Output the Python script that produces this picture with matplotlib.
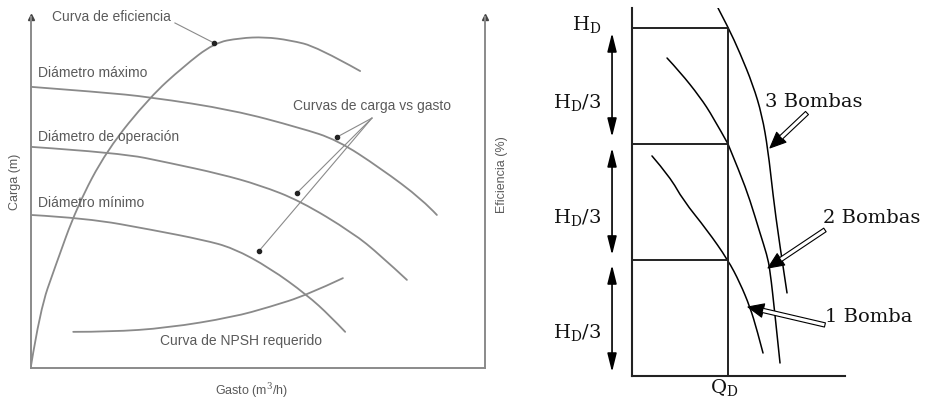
"""Pump characteristic sketch (left) and series-pump head split (right).

Left: head vs flow for three impeller diameters, efficiency and NPSH curves.
Right: 1, 2 and 3 pumps in series, each adding H_D/3 at the design flow Q_D.
Saved to out.png.
"""

import matplotlib
matplotlib.use("Agg")
import matplotlib.pyplot as plt
from matplotlib.path import Path
from matplotlib.patches import PathPatch

# ---- left panel: gasto (% of axis) vs carga (% of axis) ----
dmax_q = [0, 15.2, 26.2, 44.5, 59.3, 67.4, 76.9, 86.3, 89.4]
dmax_h = [80.1, 78.6, 77.2, 73.5, 68.4, 65.0, 57.0, 47.9, 43.6]

doper_q = [0, 19.6, 30.6, 41.6, 50.4, 59.3, 70.9, 76.9, 82.8]
doper_h = [63.0, 61.3, 58.4, 55.3, 52.1, 47.6, 38.5, 32.2, 25.1]

dmin_q = [0, 12.3, 26.9, 37.9, 44.5, 52.6, 60.8, 65.9, 69.2]
dmin_h = [43.6, 42.7, 39.3, 36.5, 34.2, 28.5, 20.8, 14.8, 10.3]

efic_q = [0, 2.0, 5.3, 10.1, 16.7, 26.2, 33.5, 40.3, 46.0, 51.5, 57.0, 63.0, 72.5]
efic_h = [0.6, 16.5, 28.8, 45.9, 62.1, 77.2, 85.8, 92.6, 94.0, 94.3, 93.4, 91.5, 84.6]

npsh_q = [9.3, 17.4, 30.0, 44.5, 52.6, 60.8, 68.7]
npsh_h = [10.3, 10.3, 11.4, 14.5, 17.4, 20.8, 25.6]

# leader line endpoints for the "Curvas de carga vs gasto" callout
callout_from = (75.1, 71.2)
callout_dots = [(67.4, 65.8), (58.6, 49.9), (50.2, 33.3)]

# ---- right panel: Q / Q_D vs H / (H_D/3) ----
b3_q = [0.896, 1.0, 1.125, 1.260, 1.354, 1.417, 1.469, 1.531, 1.615]
b3_h = [3.172, 3.009, 2.784, 2.509, 2.250, 1.948, 1.560, 1.172, 0.716]

b2_q = [1.0, 1.125, 1.229, 1.333, 1.406, 1.438, 1.490, 1.542]
b2_h = [2.0, 1.75, 1.517, 1.233, 1.043, 0.914, 0.526, 0.112]

b1a_q = [0.365, 0.5, 0.708, 0.844, 1.0]
b1a_h = [2.741, 2.621, 2.405, 2.233, 2.0]

b1b_q = [0.208, 0.396, 0.531, 0.781, 1.0, 1.125, 1.229, 1.302, 1.365]
b1b_h = [1.897, 1.716, 1.517, 1.259, 1.0, 0.802, 0.595, 0.397, 0.198]

levels = [1, 2, 3]      # H_D/3, 2H_D/3, H_D
q_design = 1.0

GRAY = "#8a8a8a"
TXT = "#5a5a5a"
plt.rcParams["mathtext.fontset"] = "dejavuserif"


def smooth_curve(ax, xs, ys, **kw):
    """Draw the points as control polygon of a quadratic Bezier chain."""
    pts = list(zip(xs, ys))
    verts = [pts[0]]
    codes = [Path.MOVETO]
    for i in range(1, len(pts) - 1):
        nxt = pts[i + 1] if i == len(pts) - 2 else (
            (pts[i][0] + pts[i + 1][0]) / 2, (pts[i][1] + pts[i + 1][1]) / 2)
        verts += [pts[i], nxt]
        codes += [Path.CURVE3, Path.CURVE3]
    ax.add_patch(PathPatch(Path(verts, codes), fill=False, capstyle="round", **kw))


fig = plt.figure(figsize=(9.38, 4.03), dpi=100)

# left panel ----------------------------------------------------------
axL = fig.add_axes([31 / 938, 35 / 403, 454 / 938, 351 / 403])
axL.set_xlim(0, 100)
axL.set_ylim(0, 100)
axL.set_xticks([])
axL.set_yticks([])
axL.spines["top"].set_visible(False)
for s in ("left", "right", "bottom"):
    axL.spines[s].set_color(GRAY)
    axL.spines[s].set_linewidth(1.4)
axL.plot([0, 100], [100, 100], ls="none", marker="^", ms=5,
         color="#444444", clip_on=False)

lkw = dict(edgecolor=GRAY, lw=1.3)
smooth_curve(axL, dmax_q, dmax_h, **lkw)
smooth_curve(axL, doper_q, doper_h, **lkw)
smooth_curve(axL, dmin_q, dmin_h, **lkw)
smooth_curve(axL, efic_q, efic_h, **lkw)
smooth_curve(axL, npsh_q, npsh_h, **lkw)

fkw = dict(family="Liberation Sans", fontsize=10, color=TXT)
axL.text(4.6, 100, "Curva de eficiencia", va="center", **fkw)
axL.plot([31.7, 40.3], [98.3, 92.6], color=GRAY, lw=0.8)
axL.plot([40.3], [92.6], "o", ms=3, color="#222222")
axL.text(1.5, 84.0, "Diámetro máximo", va="center", **fkw)
axL.text(1.5, 65.8, "Diámetro de operación", va="center", **fkw)
axL.text(1.5, 47.0, "Diámetro mínimo", va="center", **fkw)
axL.text(57.7, 74.6, "Curvas de carga vs gasto", va="center", **fkw)
for dx, dy in callout_dots:
    axL.plot([callout_from[0], dx], [callout_from[1], dy], color=GRAY, lw=0.8)
    axL.plot([dx], [dy], "o", ms=3, color="#222222")
axL.text(28.4, 7.7, "Curva de NPSH requerido", va="center", **fkw)

axL.text(48.5, -6.3, "Gasto (m$^3$/h)", ha="center", va="center",
         family="Liberation Sans", fontsize=9, color=TXT)
axL.text(-3.5, 53, "Carga (m)", rotation=90, ha="center", va="center",
         family="Liberation Sans", fontsize=9, color=TXT)
axL.text(103.8, 55, "Eficiencia (%)", rotation=90, ha="center", va="center",
         family="Liberation Sans", fontsize=9, color=TXT)

# right panel ---------------------------------------------------------
axR = fig.add_axes([632 / 938, 27 / 403, 213 / 938, 368 / 403])
axR.set_xlim(0, 2.219)
axR.set_ylim(0, 3.172)
axR.set_xticks([])
axR.set_yticks([])
axR.spines["top"].set_visible(False)
axR.spines["right"].set_visible(False)
for s in ("left", "bottom"):
    axR.spines[s].set_color("#222222")
    axR.spines[s].set_linewidth(1.5)

for h in levels:
    axR.plot([0, q_design], [h, h], color="#222222", lw=1.4)
axR.plot([q_design, q_design], [0, levels[-1]], color="#222222", lw=1.4)

ckw = dict(edgecolor="black", lw=1.1)
smooth_curve(axR, b3_q, b3_h, **ckw)
smooth_curve(axR, b2_q, b2_h, **ckw)
smooth_curve(axR, b1a_q, b1a_h, **ckw)
smooth_curve(axR, b1b_q, b1b_h, **ckw)

# double-headed H_D/3 spans left of the axis
for lo, hi in [(0.034, 0.957), (1.043, 1.966), (2.06, 2.957)]:
    axR.annotate("", xy=(-0.208, hi), xytext=(-0.208, lo),
                 arrowprops=dict(arrowstyle="<|-|>,head_length=0.8,head_width=0.2",
                                 color="black", lw=1.2, mutation_scale=14,
                                 shrinkA=0, shrinkB=0),
                 annotation_clip=False)

skw = dict(family="DejaVu Serif", fontsize=14, color="#111111")
axR.text(-0.625, 3.026, r"$\mathrm{H_D}$", va="center", ha="left", **skw)
for y in (2.36, 1.362, 0.371):
    axR.text(-0.823, y, r"$\mathrm{H_D/3}$", va="center", ha="left", **skw)
axR.text(0.958, -0.095, r"$\mathrm{Q_D}$", va="center", ha="center", **skw)


def hollow_arrow(tail, tip):
    axR.annotate("", xy=tip, xytext=tail,
                 arrowprops=dict(arrowstyle="simple,head_length=0.8,head_width=0.7,tail_width=0.22",
                                 fc="white", ec="black", lw=0.8, mutation_scale=14,
                                 shrinkA=0, shrinkB=0),
                 annotation_clip=False)
    axR.annotate("", xy=tip, xytext=tail,
                 arrowprops=dict(arrowstyle="-|>,head_length=0.8,head_width=0.35",
                                 fc="black", ec="black", lw=0, mutation_scale=14,
                                 shrinkA=0, shrinkB=0),
                 annotation_clip=False)


axR.text(1.385, 2.36, "3 Bombas", va="center", ha="left", **skw)
hollow_arrow((1.823, 2.267), (1.4375, 1.966))
axR.text(1.99, 1.362, "2 Bombas", va="center", ha="left", **skw)
hollow_arrow((2.01, 1.259), (1.417, 0.931))
axR.text(2.01, 0.509, "1 Bomba", va="center", ha="left", **skw)
hollow_arrow((2.01, 0.44), (1.208, 0.595))

fig.savefig("out.png", dpi=100)
